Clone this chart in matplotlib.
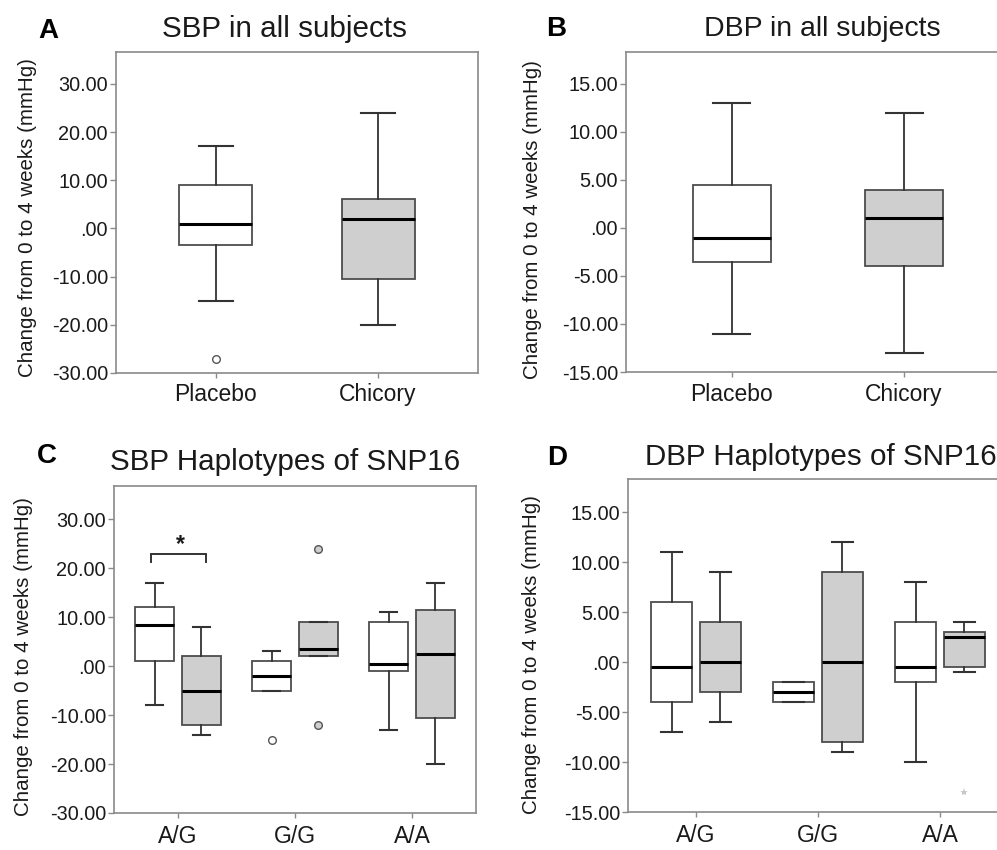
import matplotlib
matplotlib.use("Agg")
import matplotlib.pyplot as plt

plt.rcParams['font.family'] = ['Liberation Sans', 'DejaVu Sans']

# ---------------- data ----------------
treat_groups = ["Placebo", "Chicory"]

sbp_all_whislo = [-15, -20]
sbp_all_q1 = [-3.5, -10.5]
sbp_all_med = [1, 2]
sbp_all_q3 = [9, 6]
sbp_all_whishi = [17, 24]
sbp_all_outliers = [[-27], []]

dbp_all_whislo = [-11, -13]
dbp_all_q1 = [-3.5, -4]
dbp_all_med = [-1, 1]
dbp_all_q3 = [4.5, 4]
dbp_all_whishi = [13, 12]
dbp_all_outliers = [[], []]

haplotypes = ["A/G", "G/G", "A/A"]

sbp_hap_placebo_whislo = [-8, -5, -13]
sbp_hap_placebo_q1 = [1, -5, -1]
sbp_hap_placebo_med = [8.5, -2, 0.5]
sbp_hap_placebo_q3 = [12, 1, 9]
sbp_hap_placebo_whishi = [17, 3, 11]
sbp_hap_placebo_outliers = [[], [-15], []]

sbp_hap_chicory_whislo = [-14, 2, -20]
sbp_hap_chicory_q1 = [-12, 2, -10.5]
sbp_hap_chicory_med = [-5, 3.5, 2.5]
sbp_hap_chicory_q3 = [2, 9, 11.5]
sbp_hap_chicory_whishi = [8, 9, 17]
sbp_hap_chicory_outliers = [[], [24, -12], []]

dbp_hap_placebo_whislo = [-7, -4, -10]
dbp_hap_placebo_q1 = [-4, -4, -2]
dbp_hap_placebo_med = [-0.5, -3, -0.5]
dbp_hap_placebo_q3 = [6, -2, 4]
dbp_hap_placebo_whishi = [11, -2, 8]
dbp_hap_placebo_outliers = [[], [], []]

dbp_hap_chicory_whislo = [-6, -9, -1]
dbp_hap_chicory_q1 = [-3, -8, -0.5]
dbp_hap_chicory_med = [0, 0, 2.5]
dbp_hap_chicory_q3 = [4, 9, 3]
dbp_hap_chicory_whishi = [9, 12, 4]
dbp_hap_chicory_outliers = [[], [], []]
dbp_hap_chicory_extremes = [[], [], [-13]]

sbp_ticks = [-30, -20, -10, 0, 10, 20, 30]
sbp_ticklabels = ["-30.00", "-20.00", "-10.00", ".00", "10.00", "20.00", "30.00"]
dbp_ticks = [-15, -10, -5, 0, 5, 10, 15]
dbp_ticklabels = ["-15.00", "-10.00", "-5.00", ".00", "5.00", "10.00", "15.00"]

sig_label = "*"
ylabel_text = "Change from 0 to 4 weeks (mmHg)"

# ---------------- styles ----------------
W, H = 997, 850
FILL_P = "white"
FILL_C = "#cfcfcf"
EDGE = "#4d4d4d"
WHISK = "#333333"
FRAME = "#8a8a8a"
TXT = "#1a1a1a"


def stats(whislo, q1, med, q3, whishi, fliers):
    return [dict(whislo=a, q1=b, med=c, q3=d, whishi=e, fliers=f)
            for a, b, c, d, e, f in zip(whislo, q1, med, q3, whishi, fliers)]


def draw(ax, st, positions, fill, width, capw):
    bp = ax.bxp(st, positions=positions, widths=width, capwidths=capw,
                patch_artist=True, showfliers=True,
                boxprops=dict(facecolor=fill, edgecolor=EDGE, linewidth=1.3),
                medianprops=dict(color="black", linewidth=2.2),
                whiskerprops=dict(color=WHISK, linewidth=1.3),
                capprops=dict(color=WHISK, linewidth=1.5),
                flierprops=dict(marker="o", markersize=5.5,
                                markerfacecolor=fill, markeredgecolor="#555555",
                                markeredgewidth=1.0))
    return bp


def px_axes(fig, left, right, top, bottom):
    return fig.add_axes([left / W, 1 - bottom / H, (right - left) / W, (bottom - top) / H])


def style(ax, ticks, ticklabels, xpos, xlabels, xpad):
    for s in ax.spines.values():
        s.set_color(FRAME)
        s.set_linewidth(1.2)
    ax.set_yticks(ticks)
    ax.set_yticklabels(ticklabels)
    ax.set_xticks(xpos)
    ax.set_xticklabels(xlabels)
    ax.tick_params(axis='y', direction='out', length=4.3, width=1, color=FRAME,
                   labelsize=14.3, labelcolor=TXT, pad=1.5)
    ax.tick_params(axis='x', direction='out', length=3.6, width=1, color=FRAME,
                   labelsize=16.5, labelcolor=TXT, pad=xpad)
    ax.tick_params(axis='both', which='both', right=False, top=False)


fig = plt.figure(figsize=(W / 100, H / 100), dpi=100)

# ---------- Panel A ----------
axA = px_axes(fig, 116, 478, 52, 373)
posA = list(range(1, len(treat_groups) + 1))
stA = stats(sbp_all_whislo, sbp_all_q1, sbp_all_med, sbp_all_q3, sbp_all_whishi, sbp_all_outliers)
draw(axA, [stA[0]], [posA[0]], FILL_P, 0.45, 0.21)
draw(axA, [stA[1]], [posA[1]], FILL_C, 0.45, 0.21)
axA.set_xlim(0.384, 2.616)
axA.set_ylim(-30, 36.6)
style(axA, sbp_ticks, sbp_ticklabels, posA, treat_groups, 3.6)

# ---------- Panel B ----------
axB = px_axes(fig, 626, 1010, 52, 372)
stB = stats(dbp_all_whislo, dbp_all_q1, dbp_all_med, dbp_all_q3, dbp_all_whishi, dbp_all_outliers)
draw(axB, [stB[0]], [posA[0]], FILL_P, 0.45, 0.215)
draw(axB, [stB[1]], [posA[1]], FILL_C, 0.45, 0.215)
axB.set_xlim(0.384, 2.616)
axB.set_ylim(-15, 18.33)
style(axB, dbp_ticks, dbp_ticklabels, posA, treat_groups, 4.2)

# ---------- Panel C ----------
off = 0.2
bw = 0.33
axC = px_axes(fig, 114, 476, 486, 813)
posH = list(range(1, len(haplotypes) + 1))
stCp = stats(sbp_hap_placebo_whislo, sbp_hap_placebo_q1, sbp_hap_placebo_med,
             sbp_hap_placebo_q3, sbp_hap_placebo_whishi, sbp_hap_placebo_outliers)
stCc = stats(sbp_hap_chicory_whislo, sbp_hap_chicory_q1, sbp_hap_chicory_med,
             sbp_hap_chicory_q3, sbp_hap_chicory_whishi, sbp_hap_chicory_outliers)
draw(axC, stCp, [p - off for p in posH], FILL_P, bw, 0.15)
draw(axC, stCc, [p + off for p in posH], FILL_C, bw, 0.15)
axC.set_xlim(0.453, 3.547)
axC.set_ylim(-30, 36.8)
style(axC, sbp_ticks, sbp_ticklabels, posH, haplotypes, 4.8)
# significance bracket for A/G
bx0, bx1 = posH[0] - 0.23, posH[0] + 0.24
axC.plot([bx0, bx0, bx1, bx1], [21.3, 23, 23, 21.3], color="#333333", lw=1.4,
         solid_joinstyle='miter')
axC.text(posH[0] + 0.02, 23.6, sig_label, ha='center', va='baseline',
         fontsize=16.5, fontweight='bold', color=TXT)

# ---------- Panel D ----------
axD = px_axes(fig, 628, 1008, 479, 812)
stDp = stats(dbp_hap_placebo_whislo, dbp_hap_placebo_q1, dbp_hap_placebo_med,
             dbp_hap_placebo_q3, dbp_hap_placebo_whishi, dbp_hap_placebo_outliers)
stDc = stats(dbp_hap_chicory_whislo, dbp_hap_chicory_q1, dbp_hap_chicory_med,
             dbp_hap_chicory_q3, dbp_hap_chicory_whishi, dbp_hap_chicory_outliers)
draw(axD, stDp, [p - off for p in posH], FILL_P, bw, 0.17)
draw(axD, stDc, [p + off for p in posH], FILL_C, bw, 0.17)
for p, ext in zip(posH, dbp_hap_chicory_extremes):
    if ext:
        axD.plot([p + off] * len(ext), ext, linestyle='none', marker='*',
                 markersize=6, color="#c8c8c8", markeredgewidth=0)
axD.set_xlim(0.443, 3.557)
axD.set_ylim(-15, 18.33)
style(axD, dbp_ticks, dbp_ticklabels, posH, haplotypes, 5.0)

# ---------- titles, panel letters, y labels ----------
def ftext(x, y, s, **kw):
    fig.text(x / W, 1 - y / H, s, **kw)

ftext(162, 37, "SBP in all subjects", ha='left', va='baseline', fontsize=21.3, color=TXT)
ftext(704, 36, "DBP in all subjects", ha='left', va='baseline', fontsize=20.5, color=TXT)
ftext(110, 470, "SBP Haplotypes of SNP16", ha='left', va='baseline', fontsize=21.3, color=TXT)
ftext(645, 465, "DBP Haplotypes of SNP16", ha='left', va='baseline', fontsize=21.3, color=TXT)

for x, y, s in [(38, 38, "A"), (546, 36, "B"), (37, 463, "C"), (547, 465, "D")]:
    ftext(x, y, s, ha='left', va='baseline', fontsize=20, fontweight='bold', color="black")

for x, y in [(28, 218), (532, 220), (24, 657), (531, 655)]:
    ftext(x, y, ylabel_text, rotation=90, ha='center', va='center', fontsize=14.8, color=TXT)

fig.savefig("out.png", dpi=100)
